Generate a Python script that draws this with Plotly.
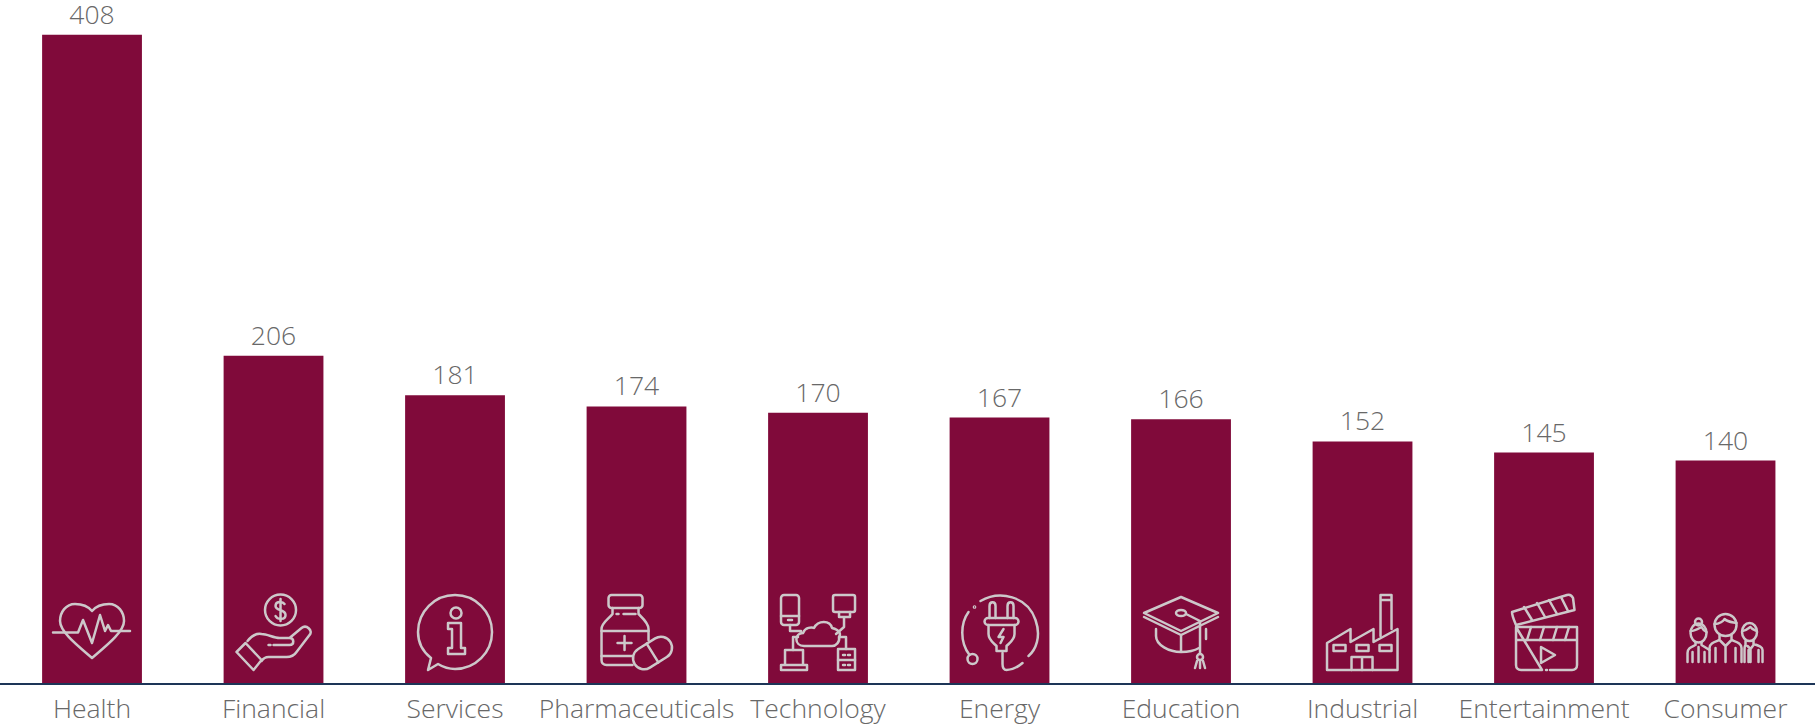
import base64
import plotly.graph_objects as go

categories = ["Health", "Financial", "Services", "Pharmaceuticals", "Technology",
              "Energy", "Education", "Industrial", "Entertainment", "Consumer"]
values = [408, 206, 181, 174, 170, 167, 166, 152, 145, 140]

BAR_COLOR = "#800A3A"
ICON_COLOR = "#CDC8CA"
TEXT_COLOR = "#686868"
AXIS_COLOR = "#1D3557"
FONT = "Open Sans"
FONT_SIZE = 26.5

PLOT_HEIGHT = 683
Y_MAX = 429.8
PX_PER_UNIT = PLOT_HEIGHT / Y_MAX
ICON_W, ICON_H = 100, 90


def capsule():
    return ('<g transform="rotate(-32 66 63)"><rect x="45" y="52" width="42" height="22" rx="11"/>'
            '<path d="M66 52V74"/></g>')


# Line icons drawn on a 100x90 canvas that sits near the foot of each bar.
icons = {
    "Health": '<path d="M50 21C45 15 38 14 33 14C24 14 18 22 18 31C18 42 36 56 50 68C64 56 82 42 82 31C82 22 76 14 67 14C62 14 55 15 50 21Z"/>'
              '<path d="M11 42.5H36L41 30L50 53L58 25L63 41L66 35L69 41H88"/>',
    "Financial": '<circle cx="57" cy="20" r="15.5"/>'
                 '<path d="M61 14C59 11 52 11 52 16C52 21 62 19 62 25C62 30 54 30 52 26M57 9V31"/>'
                 '<path d="M13 62L22 53L38 70L30 80Z"/>'
                 '<path d="M24 51C28 46 33 43 38 44C44 44 50 48 56 48H66C71 48 71 55 66 55H50M66 48L78 38C83 34 90 41 86 45L73 62C71 65 67 67 63 67H45C42 67 40 68 38 71M45 55H47"/>',
    "Services": '<path d="M50 5A37 37 0 1 1 50 79C44 79 38 77 33 74L23 80L26 68C17 61 13 52 13 42A37 37 0 0 1 50 5Z"/>'
                '<circle cx="51" cy="23" r="5.5"/>'
                '<path d="M43 33H56V58H60V64H43V58H47V39H43Z"/>',
    "Pharmaceuticals": '<rect x="22" y="5" width="34" height="13" rx="3"/>'
                       '<path d="M26 18V24C22 29 15 33 15 39V70C15 73 17 75 20 75H46M52 18V24C56 28 62 33 62 39V50"/>'
                       '<path d="M15 41H62M15 66H46M38 46V60M31 53H45M30 24H32M37 24H49"/>' + capsule(),
    "Technology": '<rect x="13" y="5" width="18" height="30" rx="3"/><path d="M13 26H31M20 30H24"/>'
                  '<rect x="65" y="5" width="22" height="17" rx="2"/><path d="M71 22V27H82V22M76 27V37L68 44"/>'
                  '<path d="M36 56C26 56 26 43 35 43C37 37 44 37 46 38C50 30 62 30 64 38C72 40 73 44 71 47C72 52 68 56 64 56Z"/>'
                  '<path d="M22 35V41H33M25 60V47H30M78 59V47H71"/>'
                  '<path d="M17 75V60H35V75M13 75H39V80H13Z"/>'
                  '<rect x="70" y="59" width="17" height="21"/><path d="M70 70H87M75 65H77M80 65H82M75 75H77M80 75H82"/>',
    "Energy": '<path d="M19 22C11 33 10 52 20 65"/><circle cx="23" cy="69" r="5"/><circle cx="25" cy="17" r="0.6"/>'
              '<path d="M31 11C50 0 78 6 86 30C92 47 86 60 79 66M73 73C66 79 62 80 57 80C54 80 53 78 53 74V63"/>'
              '<path d="M40 28V16C40 11 46 11 46 16V28M58 28V16C58 11 64 11 64 16V28"/>'
              '<rect x="35" y="28" width="34" height="7" rx="3.5"/>'
              '<path d="M39 35V44C39 50 44 53 47 56V61H57V56C60 53 65 50 65 44V35"/>'
              '<path d="M54 39L49 47H54L51 53"/>',
    "Education": '<path d="M13 23L50 7L87 23L50 41Z"/><path d="M13 27L50 45L87 27"/>'
                 '<ellipse cx="50" cy="23" rx="5" ry="3"/>'
                 '<path d="M55 24L69 31V63"/><circle cx="69" cy="67" r="3"/>'
                 '<path d="M25 39V46C25 55 38 62 50 62C57 62 63 61 68 58M50 45V62M75 39V49"/>'
                 '<path d="M66 71L64 78M69 71V78M72 71L74 78"/>',
    "Industrial": '<path d="M14.5 80V53L38 39V52L61 39V52L85 39V80Z"/>'
                  '<path d="M68 46V5H79V39M69 10H78"/>'
                  '<rect x="21" y="55" width="12" height="6"/><rect x="44" y="55" width="12" height="6"/><rect x="67" y="55" width="12" height="6"/>'
                  '<path d="M39 80V67H60V80M49.5 67V80"/>',
    "Entertainment": '<path d="M18 22L73 5C76 4 78 6 79 8L80.5 20L22 35C20 30 18 26 18 22Z"/>'
                     '<path d="M30 17L38 30M43 13L51 27M55 10L63 24M67 7L74 21"/>'
                     '<path d="M22 37H83V75C83 78 81 80 78 80H56M48 80H27C24 80 22 78 22 75V37ZM22 50H83"/>'
                     '<path d="M33 50L37 37M46 50L50 37M59 50L63 37M71 50L75 37M52 80H53"/>'
                     '<path d="M47 57L61 65L47 73Z"/>',
    "Consumer": '<ellipse cx="23" cy="43" rx="8" ry="9.5"/><circle cx="23" cy="32" r="3.5"/>'
                '<path d="M15 41C20 41 24 38 26 37C27 39 29 41 31 42"/>'
                '<path d="M12 72V63C12 58 16 57 20 55V52M34 60L26 55V52M17 72V62M23 57V72M29 72V62"/>'
                '<circle cx="50" cy="35" r="11"/><path d="M39 34C44 34 48 31 49 29C52 32 56 32 61 33"/>'
                '<path d="M34 72V58C34 53 39 52 44 50V45M66 72V58C66 53 61 52 56 50V45M40 72V58M60 72V58M44 50L50 56L56 50M50 56V72"/>'
                '<ellipse cx="74" cy="42" rx="7.5" ry="9"/><path d="M67 41C71 41 74 37 75 37C76 39 79 40 81 41"/>'
                '<path d="M69 72V60C69 57 69 56 70 55V51M87 72V60C87 57 84 56 78 54V50M73 72V60M83 72V60M72 56L75 59L78 55M75 59V72"/>',
}


def icon_source(name):
    svg = (f'<svg xmlns="http://www.w3.org/2000/svg" viewBox="0 0 {ICON_W} {ICON_H}" '
           f'width="{ICON_W * 3}" height="{ICON_H * 3}" fill="none" stroke="{ICON_COLOR}" '
           f'stroke-width="2.5" stroke-linecap="round" stroke-linejoin="round">{icons[name]}</svg>')
    return "data:image/svg+xml;base64," + base64.b64encode(svg.encode()).decode()


fig = go.Figure(
    go.Bar(
        x=categories,
        y=values,
        width=0.55,
        marker=dict(color=BAR_COLOR, line=dict(width=0)),
        text=[str(v) for v in values],
        textposition="outside",
        cliponaxis=False,
        textfont=dict(family=FONT, size=FONT_SIZE, color=TEXT_COLOR, weight=300),
    )
)

for i, name in enumerate(categories):
    fig.add_layout_image(
        source=icon_source(name),
        xref="x", yref="y",
        x=i, y=(PLOT_HEIGHT - 590) / PX_PER_UNIT,
        sizex=ICON_W / 181.5, sizey=ICON_H / PX_PER_UNIT,
        xanchor="center", yanchor="top",
        sizing="stretch", layer="above",
    )

fig.update_layout(
    width=1815, height=727,
    margin=dict(l=0, r=0, t=0, b=44, pad=0),
    paper_bgcolor="white", plot_bgcolor="white",
    showlegend=False,
    xaxis=dict(
        type="category", range=[-0.507, 9.493], showgrid=False, zeroline=False,
        showline=True, linecolor=AXIS_COLOR, linewidth=2, ticks="", ticklen=0,
        tickangle=0, automargin=False, ticklabelstandoff=1,
        tickfont=dict(family=FONT, size=FONT_SIZE, color=TEXT_COLOR, weight=300),
    ),
    yaxis=dict(range=[0, Y_MAX], visible=False, fixedrange=True),
)

fig.write_html("out.html", config=dict(displayModeBar=False))
